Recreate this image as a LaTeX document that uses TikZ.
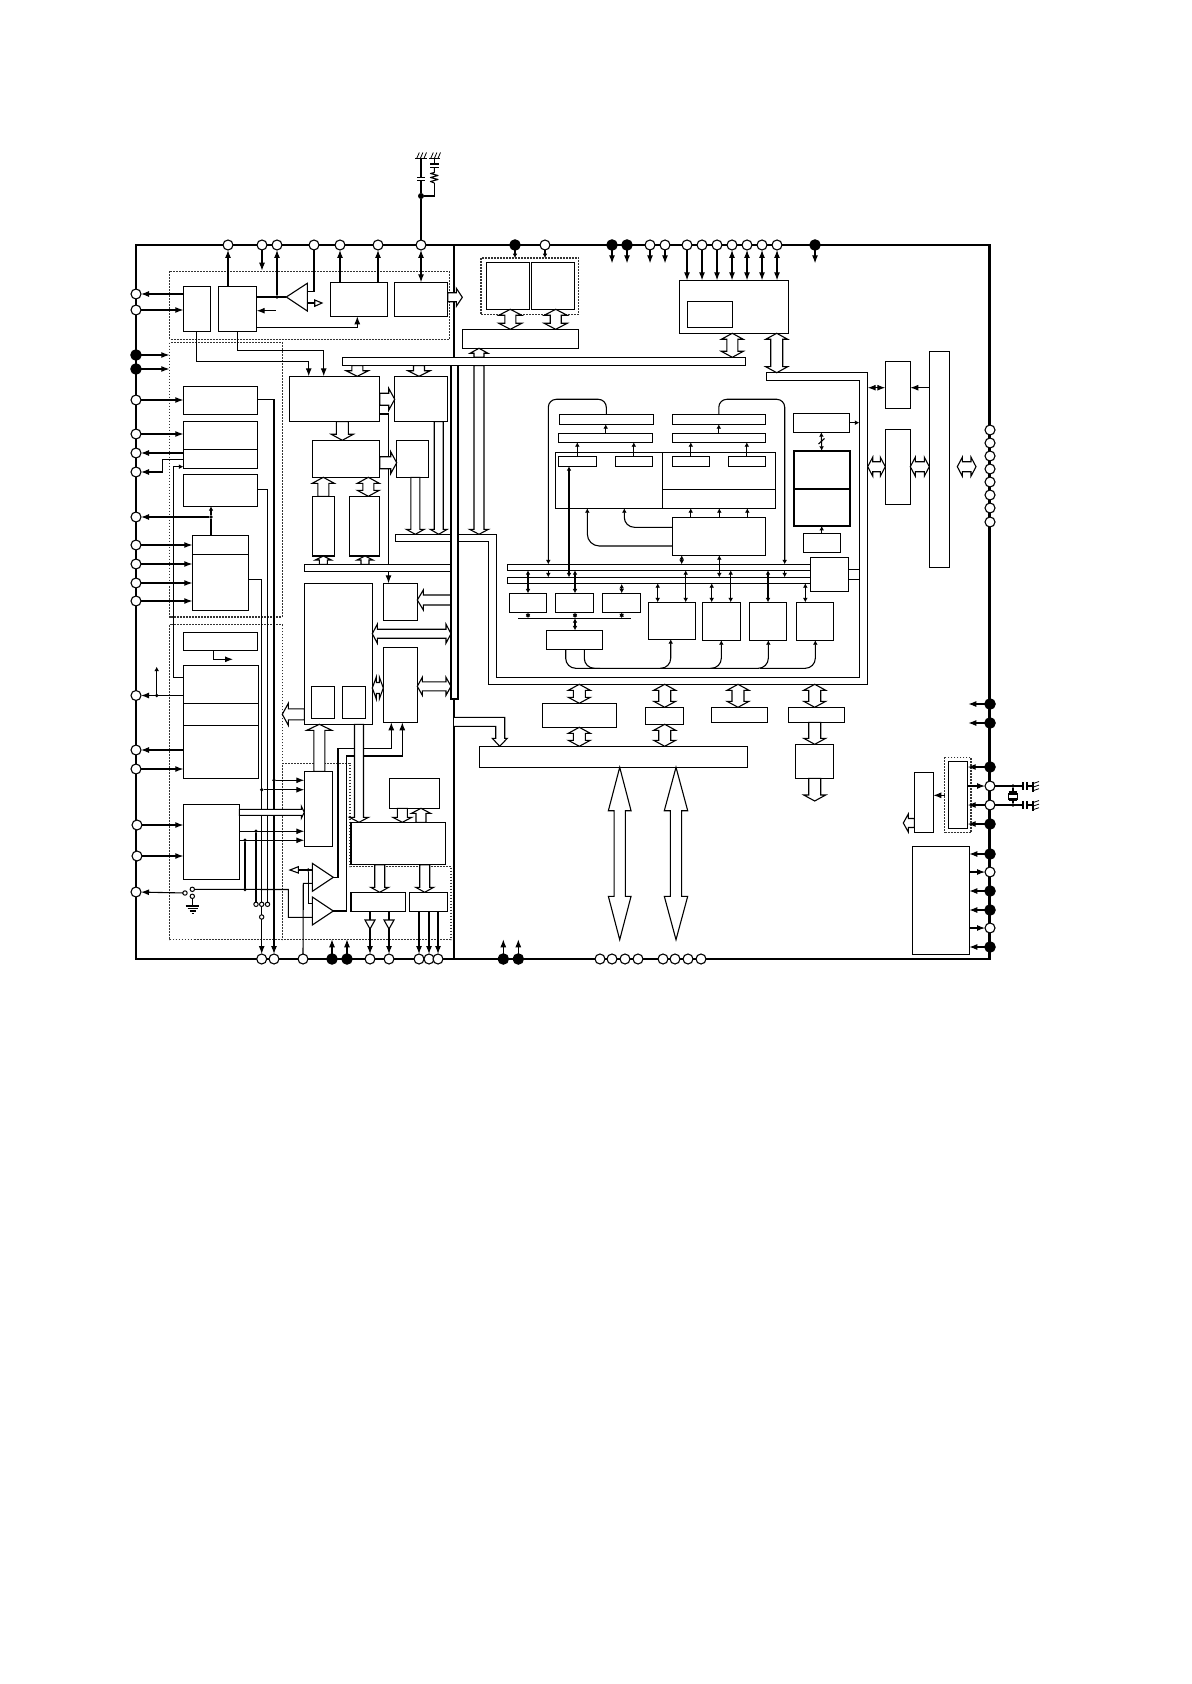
\documentclass[tikz,border=0pt]{standalone}
\usetikzlibrary{arrows.meta}
\tikzset{
 boxst/.style={draw,fill=white,line width=.55pt,inner sep=0pt,outer sep=0pt},
 thickbox/.style={boxst,line width=1.1pt},
 frameln/.style={line width=1.1pt},
 ln/.style={line width=.55pt},
 dashgrp/.style={line width=.55pt,dash pattern=on .9pt off .6pt,black!80},
 pino/.style={circle,draw,fill=white,line width=.55pt,minimum size=5pt,inner sep=0pt,outer sep=0pt},
 pinf/.style={circle,draw,fill=black,line width=.55pt,minimum size=5.2pt,inner sep=0pt,outer sep=0pt},
 swo/.style={circle,draw,fill=white,line width=.5pt,minimum size=2.2pt,inner sep=0pt,outer sep=0pt},
 junc/.style={circle,fill=black,minimum size=1.9pt,inner sep=0pt,outer sep=0pt},
 busa/.style={draw,fill=white,line width=.55pt},
 arr/.style={ln,-{Latex[length=4pt,width=3pt]}},
 darr/.style={ln,{Latex[length=4pt,width=3pt]}-{Latex[length=4pt,width=3pt]}},
 sarr/.style={ln,-{Latex[length=2.2pt,width=2.4pt]}},
 sdarr/.style={ln,{Latex[length=2.2pt,width=2.4pt]}-{Latex[length=2.2pt,width=2.4pt]}},
 hollow/.style={draw,fill=white,line width=.55pt},
}
\newcommand{\bx}[5]{\node[boxst,minimum width={(#4-#2)*0.5pt},minimum height={(#5-#3)*0.5pt}] (#1) at ({(#2+#4)/2},{(#3+#5)/2}) {};}
\newcommand{\tbx}[5]{\node[thickbox,minimum width={(#4-#2)*0.5pt},minimum height={(#5-#3)*0.5pt}] (#1) at ({(#2+#4)/2},{(#3+#5)/2}) {};}
\newcommand{\pno}[3]{\node[pino] (#1) at (#2,#3) {};}
\newcommand{\pnf}[3]{\node[pinf] (#1) at (#2,#3) {};}
\newcommand{\jn}[3]{\node[junc] (#1) at (#2,#3) {};}
\newcommand{\swc}[3]{\node[swo] (#1) at (#2,#3) {};}
% vertical block arrows: x ytop ybot shaft head headlen
\newcommand{\vda}[6]{\path[busa] ({#1-#4/2},{#2+#6}) -- ({#1-#5/2},{#2+#6}) -- (#1,#2) -- ({#1+#5/2},{#2+#6}) -- ({#1+#4/2},{#2+#6}) -- ({#1+#4/2},{#3-#6}) -- ({#1+#5/2},{#3-#6}) -- (#1,#3) -- ({#1-#5/2},{#3-#6}) -- ({#1-#4/2},{#3-#6}) -- cycle;}
\newcommand{\vdn}[6]{\path[busa] ({#1-#4/2},#2) -- ({#1+#4/2},#2) -- ({#1+#4/2},{#3-#6}) -- ({#1+#5/2},{#3-#6}) -- (#1,#3) -- ({#1-#5/2},{#3-#6}) -- ({#1-#4/2},{#3-#6}) -- cycle;}
\newcommand{\vup}[6]{\path[busa] ({#1-#4/2},#3) -- ({#1+#4/2},#3) -- ({#1+#4/2},{#2+#6}) -- ({#1+#5/2},{#2+#6}) -- (#1,#2) -- ({#1-#5/2},{#2+#6}) -- ({#1-#4/2},{#2+#6}) -- cycle;}
% horizontal block arrows: y xleft xright shaft head headlen
\newcommand{\hda}[6]{\path[busa] ({#2+#6},{#1-#4/2}) -- ({#2+#6},{#1-#5/2}) -- (#2,#1) -- ({#2+#6},{#1+#5/2}) -- ({#2+#6},{#1+#4/2}) -- ({#3-#6},{#1+#4/2}) -- ({#3-#6},{#1+#5/2}) -- (#3,#1) -- ({#3-#6},{#1-#5/2}) -- ({#3-#6},{#1-#4/2}) -- cycle;}
\newcommand{\hrt}[6]{\path[busa] (#2,{#1-#4/2}) -- (#2,{#1+#4/2}) -- ({#3-#6},{#1+#4/2}) -- ({#3-#6},{#1+#5/2}) -- (#3,#1) -- ({#3-#6},{#1-#5/2}) -- ({#3-#6},{#1-#4/2}) -- cycle;}
\newcommand{\hlf}[6]{\path[busa] (#3,{#1-#4/2}) -- (#3,{#1+#4/2}) -- ({#2+#6},{#1+#4/2}) -- ({#2+#6},{#1+#5/2}) -- (#2,#1) -- ({#2+#6},{#1-#5/2}) -- ({#2+#6},{#1-#4/2}) -- cycle;}
\newcommand{\gndtop}[2]{\draw[ln] (#1,158.3) -- (#2,158.3);
 \foreach \k in {0,1,2} {\draw[line width=.4pt] ({#1+1.5+\k*3.6},158.3) -- ({#1+4+\k*3.6},152.5);}}
\newcommand{\gndr}[1]{\draw[ln] (1023,{#1-4}) -- (1023,{#1+4}) (1027,{#1-4}) -- (1027,{#1+4}) (1027,#1) -- (1033,#1);
 \draw[ln] (1033,{#1-4.5}) -- (1033,{#1+5.5});
 \foreach \k in {0,1,2} {\draw[line width=.4pt] (1033,{#1-2.5+\k*3.6}) -- (1039,{#1-4.5+\k*3.6});}}
\begin{document}
\begin{tikzpicture}[x=0.5pt,y=-0.5pt]
\useasboundingbox (0,0) rectangle (1191,1684);
\fill[white] (0,0) rectangle (1191,1684);
% frame and dividing line
\draw[frameln] (136,245) rectangle (989.5,959);
\draw[ln] (454,245) -- (454,357.3) (454,699) -- (454,959);
% dashed groups
\draw[dashgrp] (169.7,271.3) rectangle (449.3,339.3);
\draw[dashgrp] (169.7,342.7) rectangle (282.3,617);
\draw[dashgrp] (169.7,624.7) rectangle (282.3,939.7);
\draw[dashgrp] (282.3,763.3) -- (350,763.3) -- (350,866.7) -- (451,866.7) -- (451,939.7) -- (282.3,939.7) -- cycle;
\draw[dashgrp] (481,258) rectangle (578.7,314.7);
\draw[dashgrp] (944.7,757.3) rectangle (971,832.3);
% boxes, left
\bx{A}{183.3}{286.3}{210.3}{331.3}
\bx{B}{218.3}{286.3}{256.7}{331.3}
\bx{C}{330.3}{282.3}{387.3}{316.3}
\bx{D}{394.3}{282.3}{447.7}{316.3}
\bx{E}{183.3}{386.7}{257.3}{414.3}
\bx{F}{183.3}{421.3}{257.3}{468.3}
\draw[ln] (F.west |- 0,449.3) -- (F.east |- 0,449.3);
\bx{G}{183.3}{474.3}{257.3}{506.3}
\bx{H}{192.3}{535.7}{248.3}{610.3}
\draw[ln] (H.west |- 0,554.3) -- (H.east |- 0,554.3);
\bx{S}{183.3}{632.3}{257.3}{650.3}
\bx{T}{183.3}{665.3}{258.3}{778.3}
\draw[ln] (T.west |- 0,703.3) -- (T.east |- 0,703.3) (T.west |- 0,725.3) -- (T.east |- 0,725.3);
\bx{U}{183.3}{804.3}{239.3}{879.3}
% boxes, middle
\bx{I}{289.3}{376.3}{379.3}{421.3}
\bx{J}{394.3}{376.3}{447.3}{421.3}
\bx{K}{312.3}{440.3}{379.3}{477.3}
\bx{L}{396.3}{440.3}{428.3}{477.3}
\bx{M}{312.3}{496.3}{334.3}{556}
\bx{N}{349.3}{496.3}{379.3}{556}
\bx{P}{304.3}{583.3}{372.3}{724.3}
\bx{Pa}{311.3}{686.3}{334.3}{718.3}
\bx{Pb}{342.3}{686.3}{365.3}{718.3}
\bx{Q}{383.3}{583.3}{417.3}{620.3}
\bx{R}{383.3}{647.3}{417.3}{722.3}
\bx{V}{304.3}{771.3}{332.3}{846.3}
\bx{W}{389.3}{778.7}{439.3}{808.3}
\bx{X}{351}{822.3}{445.3}{864.7}
\bx{Y}{351}{892.3}{405.3}{911.3}
\bx{Z}{409.3}{892.3}{447.3}{911.3}
% boxes, top right
\bx{AA}{486.3}{262.3}{529.7}{309.3}
\bx{AB}{531.3}{262.3}{574.7}{309.3}
\bx{AC}{462.3}{329.3}{578.7}{348.3}
\bx{AD}{679.3}{280.3}{788.3}{333.3}
\bx{AE}{687.3}{301.3}{732.3}{327.3}
% buses
\bx{busT}{342.3}{357.3}{745.7}{365.7}
\bx{busH}{304.3}{564.3}{451}{571.3}
\path[busa] (395.3,534.3) -- (496.7,534.3) -- (496.7,677.3) -- (859.3,677.3) -- (859.3,380.3) -- (766.3,380.3) -- (766.3,372.7) -- (867.3,372.7) -- (867.3,684.3) -- (488.7,684.3) -- (488.7,541.7) -- (395.3,541.7) -- cycle;
\path[busa] (454,717.3) -- (504.7,717.3) -- (504.7,738.3) -- (507.3,738.3) -- (499.7,746.3) -- (492.3,738.3) -- (495.7,738.3) -- (495.7,726.3) -- (454,726.3);
% centre block
\bx{BA}{559.3}{414.3}{653.3}{424.3}
\bx{BB}{558.3}{433.3}{652.3}{442.3}
\bx{BC}{672.3}{414.3}{765.3}{424.3}
\bx{BD}{672.3}{433.3}{765.3}{442.3}
\bx{BE}{555.7}{452.3}{775.3}{508.3}
\draw[ln] (662.3,452.3) -- (662.3,508.3) (662.3,489.3) -- (775.3,489.3);
\bx{BF}{558.3}{456.3}{596.3}{466.3}
\bx{BG}{615.3}{456.3}{652.3}{466.3}
\bx{BH}{672.3}{456.3}{709.3}{466.3}
\bx{BI}{728.3}{456.3}{765.3}{466.3}
\bx{BJ}{672.3}{517.3}{765.3}{555.3}
\bx{BK}{793.3}{413.3}{849.3}{432.3}
\tbx{BLa}{794}{450.7}{850}{488.7}
\tbx{BLb}{794}{488.7}{850}{526}
\bx{BM}{803.3}{533.3}{840.3}{552.3}
\bx{busA}{507.3}{564.3}{810.3}{570.3}
\bx{busB}{507.3}{577.3}{810.3}{583.3}
\bx{BN}{810.3}{557.3}{848.3}{591.3}
\bx{CA}{509.3}{593.3}{546.3}{612.3}
\bx{CB}{555.3}{593.3}{593.3}{612.3}
\bx{CC}{602.3}{593.3}{640.3}{612.3}
\bx{CD}{546.3}{630.3}{602.3}{649.3}
\bx{CE}{648.3}{602.3}{695.3}{639.3}
\bx{CF}{702.3}{602.3}{740.3}{640.3}
\bx{CG}{749.3}{602.3}{786.3}{640.3}
\bx{CH}{796.3}{602.3}{833.3}{640.3}
\bx{DA}{542.3}{703.3}{616.3}{727.3}
\bx{DB}{645.3}{707.3}{683.3}{724.3}
\bx{DC}{711.3}{707.3}{767.3}{722.3}
\bx{DD}{788.3}{707.3}{844.3}{722.3}
\bx{DE}{795.3}{744.3}{833.3}{778.3}
\bx{DF}{479.3}{746.3}{747.3}{767.3}
% right side boxes
\bx{EA}{885.3}{361.3}{910.3}{408.3}
\bx{EB}{885.3}{429.3}{910.3}{504.3}
\bx{EC}{929.3}{351.3}{949.3}{567.3}
\bx{FA}{914.3}{772.3}{933.3}{832.3}
\bx{FB}{948.3}{761.3}{967.7}{828.3}
\bx{FC}{912.3}{846.3}{969.3}{954.3}
% pins top
\pno{t228}{228}{245}\pno{t262}{262}{245}\pno{t277}{277}{245}\pno{t314}{314}{245}\pno{t340}{340}{245}\pno{t378}{378}{245}\pno{t421}{421}{245}
\pnf{t515}{515}{245}\pno{t545}{545}{245}\pnf{t612}{612}{245}\pnf{t627}{627}{245}\pno{t650}{650}{245}\pno{t665}{665}{245}
\pno{t687}{687}{245}\pno{t702}{702}{245}\pno{t717}{717}{245}\pno{t732}{732}{245}\pno{t747}{747}{245}\pno{t762}{762}{245}\pno{t777}{777}{245}\pnf{t815}{815}{245}
% pins left
\pno{l294}{136}{294}\pno{l310}{136}{310}\pnf{l355}{136}{355}\pnf{l369}{136}{369}\pno{l400}{136}{400}\pno{l434}{136}{434}\pno{l453}{136}{453}\pno{l472}{136}{472}
\pno{l517}{136}{517}\pno{l545}{136}{545}\pno{l564}{136}{564}\pno{l583}{136}{583}\pno{l601}{136}{601}\pno{l696}{136}{695.5}\pno{l750}{136}{750}\pno{l769}{136}{769}
\pno{l825}{137}{825}\pno{l856}{137}{856}\pno{l892}{136}{892}
% pins bottom
\pno{b262}{261.7}{959}\pno{b274}{274}{959}\pno{b303}{303}{959}\pnf{b332}{332}{959}\pnf{b347}{347}{959}\pno{b370}{370}{959}\pno{b389}{389}{959}\pno{b419}{419}{959}\pno{b429}{429}{959}\pno{b438}{438}{959}
\pnf{b503}{503.3}{959}\pnf{b518}{518.3}{959}
\pno{b600}{600}{959}\pno{b612}{612}{959}\pno{b625}{625}{959}\pno{b638}{638}{959}\pno{b663}{663}{959}\pno{b675}{675}{959}\pno{b688}{688}{959}\pno{b701}{701}{959}
% pins right
\foreach \yy in {430,443,456,469,482,495,508,522} {\node[pino] (r\yy) at (990,\yy) {};}
\pnf{r704}{990}{704}\pnf{r723}{990}{723}\pnf{r767}{990}{767}\pno{r786}{990}{786}\pno{r805}{990}{805}\pnf{r824}{990}{824}
\pnf{r854}{990}{854}\pno{r872}{990}{872}\pnf{r891}{990}{891}\pnf{r910}{990}{910}\pno{r928}{990}{928}\pnf{r947}{990}{947}
% triangles
\coordinate (triA) at (286.3,297);
\draw[hollow] (triA) -- (307.3,283.3) -- (307.3,311) -- cycle;
\coordinate (triU) at (333.3,877.3); \coordinate (triL) at (333.3,911);
\draw[hollow] (triU) -- (312.3,863.3) -- (312.3,891.3) -- cycle;
\draw[hollow] (triL) -- (312.3,897) -- (312.3,925) -- cycle;
% top-left connectors
\draw[arr] (228,286.3) -- (t228);
\draw[arr] (t262) -- (262,270.7);
\jn{j277}{277}{297}
\draw[arr] (j277) -- (t277);
\draw[ln] (256.7,297) -- (triA);
\draw[ln] (t314) -- (314,291.3) -- (307.3,291.3);
\draw[ln] (307.3,303) -- (314.7,303);
\draw[hollow] (314.7,300) -- (322,303) -- (314.7,306.3) -- cycle;
\draw[arr] (275.7,310.7) -- (256.7,310.7);
\draw[arr] (256.7,327.3) -- (357.3,327.3) -- (357.3,316.3);
\draw[arr] (t340 |- C.north) -- (t340);
\draw[arr] (t378 |- C.north) -- (t378);
\draw[darr] (t421 |- D.north) -- (t421);
\draw[arr] (A.west |- l294) -- (l294);
\draw[arr] (l310) -- (l310 -| A.west);
\draw[arr] (A.south) -- (196.8,361.3) -- (308.7,361.3) -- (308.7,376.3);
\draw[arr] (B.south) -- (237.5,350.3) -- (323.7,350.3) -- (323.7,376.3);
% left pins
\draw[arr] (l355) -- (169.3,355);
\draw[arr] (l369) -- (169.3,369);
\draw[arr] (l400) -- (l400 -| E.west);
\draw[arr] (l434) -- (l434 -| F.west);
\draw[arr] (F.west |- l453) -- (l453);
\draw[arr] (183.3,459.7) -- (162.7,459.7) -- (162.7,472) -- (l472);
\draw[sarr] (183.3,677.3) -- (173.3,677.3) -- (173.3,466.7) -- (183.3,466.7);
\jn{j517}{211}{517}
\draw[arr] (j517) -- (l517);
\draw[ln] (211,535.7) -- (j517);
\draw[sarr] (j517) -- (211,506.3);
\draw[arr] (l545) -- (l545 -| H.west);
\draw[arr] (l564) -- (l564 -| H.west);
\draw[arr] (l583) -- (l583 -| H.west);
\draw[arr] (l601) -- (l601 -| H.west);
% E, G, H to the bottom
\draw[arr] (257.3,399.3) -- (274,399.3) -- (b274);
\swc{sw1}{256}{904.3}\swc{sw2}{261.7}{904.3}\swc{sw3}{267.5}{904.3}\swc{sw4}{261.7}{917}
\draw[ln] (257.3,489.3) -- (267.5,489.3) -- (sw3);
\draw[ln] (248.3,579.3) -- (261.7,579.3) -- (sw2);
\draw[arr] (sw4) -- (b262);
\draw[ln] (sw2) -- (sw4);
\jn{j1}{274}{780.3}\jn{j2}{261.7}{789.7}
\draw[arr] (j1) -- (j1 -| V.west);
\draw[arr] (j2) -- (j2 -| V.west);
\jn{j3}{256}{831.3}\jn{j4}{245}{840.3}
\draw[arr] (239.3,831.3) -- (304.3,831.3);
\draw[arr] (239.3,840.3) -- (304.3,840.3);
\draw[ln] (j3) -- (sw1);
\swc{sa}{185}{893}\swc{sb}{192.3}{889.3}\swc{sc}{192.3}{896.3}
\draw[arr] (sa) -- (l892);
\jn{j5}{245}{889.5}
\draw[ln] (j4) -- (j5);
\draw[ln] (sb) -- (288.3,889.5) -- (288.3,917.3) -- (312.3,917.3);
\draw[ln] (sc) -- (192.3,906);
\draw[ln] (185.7,906) -- (199.3,906) (187.5,908.5) -- (197.5,908.5) (189.5,911) -- (195.5,911) (191.5,913.5) -- (193.5,913.5);
% T connections
\jn{j6}{156.7}{695.5}
\draw[arr] (183.3,695.5) -- (l696);
\draw[sarr] (j6) -- (156.7,666.7);
\draw[arr] (T.west |- l750) -- (l750);
\draw[arr] (l769) -- (l769 -| T.west);
\draw[arr] (l825) -- (l825 -| U.west);
\draw[arr] (l856) -- (l856 -| U.west);
\draw[arr] (213.3,650.3) -- (213.3,659.3) -- (233,659.3);
% triangles connections
\jn{j7}{308.3}{870}
\draw[ln] (312.3,870) -- (298.3,870);
\draw[hollow] (298.3,866.7) -- (298.3,873) -- (290,870) -- cycle;
\draw[ln] (j7) -- (308.3,903.7) -- (312.3,903.7);
\draw[ln] (b303) -- (303.3,883.3) -- (312.3,883.3);
\draw[arr] (triU) -- (338,877.3) -- (338,748.3) -- (391.3,748.3) -- (391.3,722.3);
\draw[arr] (triL) -- (346.7,911) -- (346.7,756) -- (402.3,756) -- (402.3,722.3);
% Y, Z outputs
\draw[ln] (370,911.3) -- (370,920);
\draw[ln] (389,911.3) -- (389,920);
\draw[hollow] (365,920) -- (375,920) -- (370,929) -- cycle;
\draw[hollow] (384,920) -- (394,920) -- (389,929) -- cycle;
\draw[arr] (370,929) -- (b370);
\draw[arr] (389,929) -- (b389);
\draw[arr] (b419 |- Z.south) -- (b419);
\draw[arr] (b429 |- Z.south) -- (b429);
\draw[arr] (b438 |- Z.south) -- (b438);
\draw[arr] (b332) -- (332,939.3);
\draw[arr] (b347) -- (347,939.3);
\draw[arr] (b503) -- (503.3,939.3);
\draw[arr] (b518) -- (518.3,939.3);
% I to bus, bus to Q
\draw[ln] (379.3,414) -- (388.5,414) -- (388.5,564.3);
\draw[arr] (388.5,571.3) -- (388.5,583.3);
% top pins right
\draw[sarr] (t515) -- (515,258);
\draw[sarr] (t545) -- (545,258);
\draw[arr] (t612) -- (612,263.3);
\draw[arr] (t627) -- (627,263.3);
\draw[arr] (t650) -- (650,263.3);
\draw[arr] (t665) -- (665,263.3);
\draw[arr] (t815) -- (815,263.3);
\draw[arr] (t687) -- (t687 |- AD.north);
\draw[arr] (t702) -- (t702 |- AD.north);
\draw[arr] (t717) -- (t717 |- AD.north);
\draw[darr] (t732) -- (t732 |- AD.north);
\draw[darr] (t747) -- (t747 |- AD.north);
\draw[darr] (t762) -- (t762 |- AD.north);
\draw[darr] (t777) -- (t777 |- AD.north);
% right side
\draw[darr] (885.3,387.7) -- (867.7,387.7);
\draw[arr] (929.3,387.7) -- (910.3,387.7);
\draw[arr] (r704) -- (968.3,704);
\draw[arr] (r723) -- (968.3,723);
\draw[arr] (r767) -- (r767 -| FB.east);
\draw[arr] (FB.east |- r786) -- (r786);
\draw[arr] (r805) -- (r805 -| FB.east);
\draw[arr] (r824) -- (r824 -| FB.east);
\draw[arr] (944.7,795.3) -- (933.3,795.3);
\draw[arr] (r854) -- (r854 -| FC.east);
\draw[arr] (FC.east |- r872) -- (r872);
\draw[arr] (r891) -- (r891 -| FC.east);
\draw[arr] (r910) -- (r910 -| FC.east);
\draw[arr] (FC.east |- r928) -- (r928);
\draw[arr] (r947) -- (r947 -| FC.east);
% crystal and capacitors
\jn{x1}{1013}{786}\jn{x2}{1013}{805}
\draw[ln] (r786) -- (1023,786);
\draw[ln] (r805) -- (1023,805);
\draw[ln] (x1) -- (x2);
\draw[ln] (1008.7,792) -- (1017.3,792) (1008.7,800.7) -- (1017.3,800.7);
\draw[boxst] (1008.7,794) rectangle (1017.3,799);
\gndr{786}\gndr{805}
% top RC
\node[circle,fill=black,minimum size=3pt,inner sep=0pt] (rc2) at (421,196) {};
\draw[ln] (t421) -- (rc2) -- (421,180.7) (417,177.7) -- (425,177.7) (417,180.7) -- (425,180.7) (421,177.7) -- (421,158.3);
\draw[ln] (rc2) -- (434.3,196) -- (434.3,183);
\draw[ln,line join=round] (434.3,183) -- (430.5,181.5) -- (438,179.5) -- (430.5,177.5) -- (438,175.5) -- (430.5,173.5) -- (434.3,172.5) -- (434.3,167.7);
\draw[ln] (430,167.7) -- (439,167.7) (430,164) -- (439,164) (434.3,164) -- (434.3,158.3);
\gndtop{415.3}{426.7}
\gndtop{429.3}{440}
% centre connectors
\draw[sarr] (BF.north) -- (BF.north |- BB.south);
\draw[sarr] (BG.north) -- (BG.north |- BB.south);
\draw[sarr] (BH.north) -- (BH.north |- BD.south);
\draw[sarr] (BI.north) -- (BI.north |- BD.south);
\draw[sarr] (605.7,433.3) -- (605.7,424.3);
\draw[sarr] (BD.north) -- (BC.south);
\draw[sarr] (690.7,517.3) -- (690.7,508.3);
\draw[sarr] (719.3,517.3) -- (719.3,508.3);
\draw[sarr] (747.3,517.3) -- (747.3,508.3);
\draw[sarr,rounded corners=4pt] (606.3,414.3) -- (606.3,399.3) -- (548.3,399.3) -- (548.3,564.3);
\draw[sarr] (548.3,570.3) -- (548.3,577.3);
\draw[sarr,rounded corners=4pt] (718.8,414.3) -- (718.8,399.3) -- (784.7,399.3) -- (784.7,564.3);
\draw[sarr] (784.7,570.3) -- (784.7,577.3);
\draw[sdarr] (569,466.3) -- (569,577.3);
\draw[sdarr] (681.7,555.3) -- (681.7,564.3);
\draw[sdarr] (719.3,555.3) -- (719.3,577.3);
\draw[sarr,rounded corners=5pt] (BJ.west |- 0,527.3) -- (624.3,527.3) -- (624.3,508.3);
\draw[sarr,rounded corners=6pt] (BJ.west |- 0,546) -- (587.3,546) -- (587.3,508.3);
\draw[sdarr] (BK.south) -- (821.7,450.7);
\draw[ln] (818.5,444) -- (824.5,438.5);
\draw[sarr] (821.7,533.3) -- (821.7,526);
\draw[sarr] (BK.east |- 0,422.7) -- (859.3,422.7);
\draw[ln] (848.3,569.3) -- (859.3,569.3) (848.3,579.3) -- (859.3,579.3);
\draw[sdarr] (528,570.3) -- (528,593.3);
\draw[sdarr] (575,570.3) -- (575,593.3);
\draw[sdarr] (621.7,584) -- (621.7,593.3);
\draw[sdarr] (528,612.3) -- (528,618.3);
\draw[sdarr] (575,612.3) -- (575,618.3);
\draw[sdarr] (621.7,612.3) -- (621.7,618.3);
\draw[ln] (518.3,618.3) -- (631,618.3);
\draw[sdarr] (575,618.3) -- (575,630.3);
\draw[sdarr] (657.7,583.3) -- (657.7,602.3);
\draw[sdarr] (685.7,570.3) -- (685.7,602.3);
\draw[sdarr] (711.7,583.3) -- (711.7,602.3);
\draw[sdarr] (730.7,570.3) -- (730.7,602.3);
\draw[sdarr] (768,570.3) -- (768,602.3);
\draw[sdarr] (805.3,583.3) -- (805.3,602.3);
\draw[ln,rounded corners=5pt] (565.7,649.3) -- (565.7,668.3) -- (600,668.3);
\draw[sarr,rounded corners=5pt] (584.3,649.3) -- (584.3,668.3) -- (670.7,668.3) -- (670.7,639.3);
\draw[sarr,rounded corners=5pt] (660,668.3) -- (721.3,668.3) -- (721.3,640.3);
\draw[sarr,rounded corners=5pt] (710,668.3) -- (768.3,668.3) -- (768.3,640.3);
\draw[sarr,rounded corners=5pt] (760,668.3) -- (815.3,668.3) -- (815.3,640.3);
% block arrows
\hrt{297.3}{447.7}{462.3}{9}{18}{6}
\vdn{357.3}{365.7}{376.3}{11}{22}{5.5}
\vdn{419}{365.7}{376.3}{11}{22}{5.5}
\hrt{399.3}{379.7}{394.7}{12}{22}{6}
\vdn{342.3}{421.7}{440.3}{12}{22}{6}
\hrt{462.7}{379.7}{396.7}{12}{22}{6}
\vup{323.3}{477.3}{496.3}{11}{22}{6}
\vda{368.3}{477.3}{496.3}{11}{22}{6}
\vup{323.3}{556}{564.3}{8}{16}{4}
\vup{365}{556}{564.3}{8}{16}{4}
\vdn{438.7}{421.7}{534.3}{9}{17}{5}
\vdn{415.3}{477.3}{534.3}{9}{18}{5}
\vdn{479}{365.7}{534.3}{10}{19}{5}
\vup{479}{348.3}{357.3}{10}{18}{5}
\vda{510.3}{309.3}{329.3}{11}{23}{6}
\vda{555.7}{309.3}{329.3}{11}{23}{6}
\vda{732.3}{333.3}{357.3}{11}{22}{6}
\vda{776.7}{333.3}{372.7}{12}{22}{6}
\vda{579.3}{684.3}{703.3}{12}{22}{6}
\vda{579.3}{727.3}{746.3}{12}{22}{6}
\vda{664.7}{684.3}{707.3}{12}{22}{6}
\vda{664.7}{724.3}{746.3}{12}{22}{6}
\vda{738}{684.3}{707.3}{12}{22}{6}
\vda{814.7}{684.3}{707.3}{12}{22}{6}
\vdn{814.7}{722.3}{744.3}{12}{22}{6}
\vdn{814.7}{778.3}{801}{12}{22}{6}
\hlf{600}{417.3}{451}{10}{20}{6}
\hda{633.7}{372.3}{451}{9}{19}{5}
\hda{686.3}{417.3}{451}{9}{18}{5}
\hda{688}{372.3}{383.3}{11}{22}{4}
\hlf{714.3}{282.3}{304.3}{11}{22}{6}
\vup{319.3}{724.3}{771.3}{11}{25}{6}
\vdn{359}{724.3}{822.3}{9}{19}{5}
\hrt{812.3}{239.3}{304.3}{6}{12}{3}
\vdn{402.3}{808.3}{822.3}{10}{19}{5}
\vup{421}{808.3}{822.3}{10}{19}{5}
\vdn{379.7}{864.7}{892.3}{10}{18}{5}
\vdn{424.7}{864.7}{892.3}{10}{18}{5}
\hlf{823}{903.3}{914.3}{9}{18}{5}
\hda{466.7}{867.7}{885.3}{10}{19}{5}
\hda{466.7}{910.3}{929.3}{10}{19}{5}
\hda{466.7}{957.3}{976}{10}{19}{5}
% large arrows
\vda{619.7}{767.3}{939.7}{11.3}{22.7}{43.4}
\vda{676}{767.3}{939.7}{11.3}{23.4}{43.4}
% vertical bus, drawn last so that its inside stays white
\bx{busV}{451}{365.7}{458}{699}
\end{tikzpicture}
\end{document}
